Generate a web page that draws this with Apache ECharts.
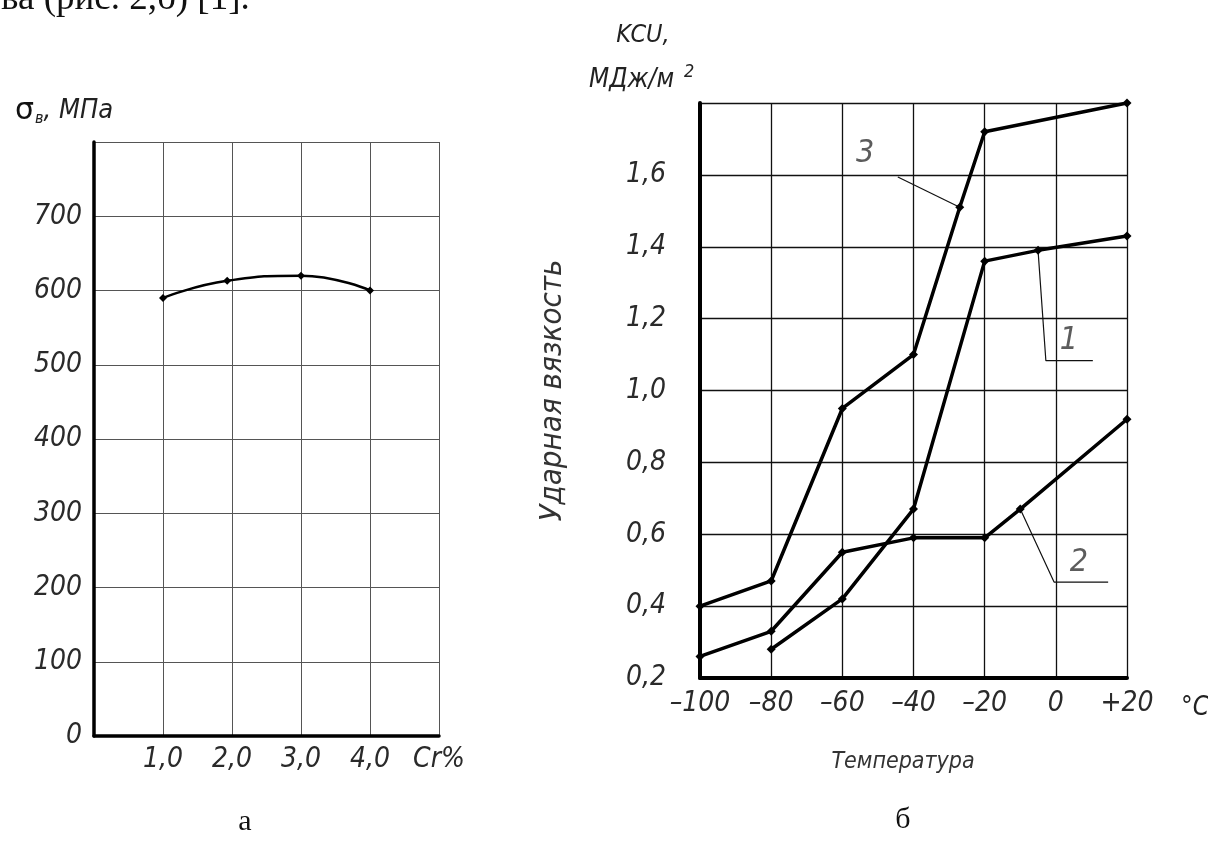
<!DOCTYPE html>
<html>
<head>
<meta charset="utf-8">
<script src="https://cdn.jsdelivr.net/npm/echarts@6/dist/echarts.min.js"></script>
<style>
html,body{margin:0;padding:0;background:#fff;}
#c{width:1208px;height:848px;}
</style>
</head>
<body>
<div id="c"></div>
<script>
// ---- Chart a: tensile strength vs Cr content ----
const crPercent = [1.0, 1.93, 3.0, 4.0];
const sigmaB = [590, 613, 620, 600];
const crTickLabels = {0: '', 1: '1,0', 2: '2,0', 3: '3,0', 4: '4,0', 5: 'Cr%'};

// ---- Chart б: impact toughness vs temperature ----
const temp3 = [-100, -80, -60, -40, -27, -20, 20];
const kcu3  = [0.40, 0.47, 0.95, 1.10, 1.51, 1.72, 1.80];
const temp1 = [-80, -60, -40, -20, -5, 20];
const kcu1  = [0.28, 0.42, 0.67, 1.36, 1.39, 1.43];
const temp2 = [-100, -80, -60, -40, -20, -10, 20];
const kcu2  = [0.26, 0.33, 0.55, 0.59, 0.59, 0.67, 0.92];

// leader lines (data units) and curve numbers
const leader3 = [[-44.4, 1.594], [-27, 1.51]];
const leader1 = [[-5, 1.39], [-2.8, 1.083], [10.4, 1.083]];
const leader2 = [[-10, 0.67], [-0.5, 0.467], [14.7, 0.467]];
const curveNames = [['3', -53.6, 1.66], ['1', 3.7, 1.14], ['2', 6.5, 0.52]];

const FONT = "'Liberation Sans Narrow','DejaVu Sans Condensed','Open Sans',sans-serif";
const SERIF = "'Liberation Serif','DejaVu Serif',serif";
const lblStyle = {fontFamily: FONT, fontStyle: 'italic', fontWeight: 'normal', fontSize: 28, color: '#2a2a2a'};

function zip(a, b){ return a.map((v, i) => [v, b[i]]); }
function fmtComma(v){ return (Math.round(v * 10) / 10).toFixed(1).replace('.', ','); }

const chart = echarts.init(document.getElementById('c'), null, {renderer: 'canvas'});

const option = {
  backgroundColor: '#fff',
  animation: false,
  title: [
    {text: 'ва (рис. 2,б) [1].', left: -4, top: -24,
     textStyle: {fontFamily: SERIF, fontSize: 37, fontWeight: 'normal', color: '#111'}},
    {text: '{s|σ}{sub|в}{n|, МПа}', left: 10, top: 90,
     textStyle: {fontWeight: 'normal', rich: {
       s: {fontFamily: "'DejaVu Sans',sans-serif", fontSize: 30, fontWeight: 'normal', color: '#111'},
       sub: {fontFamily: FONT, fontStyle: 'italic', fontWeight: 'normal', fontSize: 16, color: '#222', padding: [16, 0, 0, 1]},
       n: {fontFamily: FONT, fontStyle: 'italic', fontWeight: 'normal', fontSize: 27, color: '#222'}
     }}},
    {text: 'KCU,', left: 638, top: 18, textAlign: 'center',
     textStyle: {fontFamily: FONT, fontStyle: 'italic', fontSize: 25, fontWeight: 'normal', color: '#222'}},
    {text: '{n|МДж/м}{sup|2}', left: 584, top: 58,
     textStyle: {fontWeight: 'normal', rich: {
       n: {fontFamily: FONT, fontStyle: 'italic', fontWeight: 'normal', fontSize: 26, color: '#222'},
       sup: {fontFamily: FONT, fontStyle: 'italic', fontWeight: 'normal', fontSize: 18, color: '#222', padding: [0, 0, 16, 10]}
     }}},
    {text: 'Температура', left: 898, top: 746, textAlign: 'center',
     textStyle: {fontFamily: FONT, fontStyle: 'italic', fontSize: 23, fontWeight: 'normal', color: '#333'}},
    {text: '°C', left: 1176, top: 690,
     textStyle: {fontFamily: FONT, fontStyle: 'italic', fontSize: 26, fontWeight: 'normal', color: '#222'}},
    {text: 'а', left: 240, top: 802, textAlign: 'center',
     textStyle: {fontFamily: SERIF, fontSize: 30, fontWeight: 'normal', color: '#111'}},
    {text: 'б', left: 898, top: 800, textAlign: 'center',
     textStyle: {fontFamily: SERIF, fontSize: 30, fontWeight: 'normal', color: '#111'}}
  ],
  grid: [
    {left: 94, right: 769, top: 142, bottom: 112, containLabel: false},
    {left: 700, right: 81, top: 103, bottom: 170, containLabel: false}
  ],
  xAxis: [
    {gridIndex: 0, type: 'value', min: 0, max: 5, interval: 1,
     axisLine: {show: true, onZero: false, lineStyle: {color: '#000', width: 3.5}},
     axisTick: {show: false},
     splitLine: {show: true, lineStyle: {color: '#555', width: 1}},
     axisLabel: Object.assign({margin: 10, formatter: v => crTickLabels[Math.round(v)] ?? ''}, lblStyle)},
    {gridIndex: 1, type: 'value', min: -100, max: 20, interval: 20,
     axisLine: {show: true, onZero: false, lineStyle: {color: '#000', width: 4}},
     axisTick: {show: false},
     splitLine: {show: true, lineStyle: {color: '#111', width: 1.3}},
     axisLabel: Object.assign({margin: 12, formatter: v => v > 0 ? '+' + v : (v < 0 ? '–' + Math.abs(v) : '' + v)}, lblStyle)}
  ],
  yAxis: [
    {gridIndex: 0, type: 'value', min: 0, max: 800, interval: 100,
     axisLine: {show: true, onZero: false, lineStyle: {color: '#000', width: 3.5}},
     axisTick: {show: false},
     splitLine: {show: true, lineStyle: {color: '#555', width: 1}},
     axisLabel: Object.assign({margin: 12, formatter: v => v >= 800 ? '' : '' + v}, lblStyle)},
    {gridIndex: 1, type: 'value', min: 0.2, max: 1.8, interval: 0.2,
     name: 'Ударная вязкость', nameLocation: 'middle', nameGap: 132, nameRotate: 90,
     nameTextStyle: {fontFamily: FONT, fontStyle: 'italic', fontSize: 31, color: '#333'},
     axisLine: {show: true, onZero: false, lineStyle: {color: '#000', width: 4}},
     axisTick: {show: false},
     splitLine: {show: true, lineStyle: {color: '#111', width: 1.3}},
     axisLabel: Object.assign({margin: 34, formatter: v => v >= 1.79 ? '' : fmtComma(v)}, lblStyle)}
  ],
  series: [
    {type: 'line', xAxisIndex: 0, yAxisIndex: 0, data: zip(crPercent, sigmaB), smooth: 0.5,
     symbol: 'diamond', symbolSize: 8, itemStyle: {color: '#000'},
     lineStyle: {color: '#000', width: 2.5}},
    {type: 'line', xAxisIndex: 1, yAxisIndex: 1, data: zip(temp3, kcu3),
     symbol: 'diamond', symbolSize: 9, itemStyle: {color: '#000'},
     lineStyle: {color: '#000', width: 3.5}},
    {type: 'line', xAxisIndex: 1, yAxisIndex: 1, data: zip(temp1, kcu1),
     symbol: 'diamond', symbolSize: 9, itemStyle: {color: '#000'},
     lineStyle: {color: '#000', width: 3.5}},
    {type: 'line', xAxisIndex: 1, yAxisIndex: 1, data: zip(temp2, kcu2),
     symbol: 'diamond', symbolSize: 9, itemStyle: {color: '#000'},
     lineStyle: {color: '#000', width: 3.5}},
    {type: 'line', xAxisIndex: 1, yAxisIndex: 1, data: leader3, symbol: 'none',
     lineStyle: {color: '#111', width: 1.2}},
    {type: 'line', xAxisIndex: 1, yAxisIndex: 1, data: leader1, symbol: 'none',
     lineStyle: {color: '#111', width: 1.2}},
    {type: 'line', xAxisIndex: 1, yAxisIndex: 1, data: leader2, symbol: 'none',
     lineStyle: {color: '#111', width: 1.2}},
    {type: 'scatter', xAxisIndex: 1, yAxisIndex: 1, symbolSize: 0,
     data: curveNames.map(c => ({name: c[0], value: [c[1], c[2]]})),
     label: Object.assign({show: true, position: 'inside', formatter: p => p.name}, lblStyle, {fontSize: 32, color: '#333'})}
  ]
};
chart.setOption(option);
</script>
</body>
</html>
